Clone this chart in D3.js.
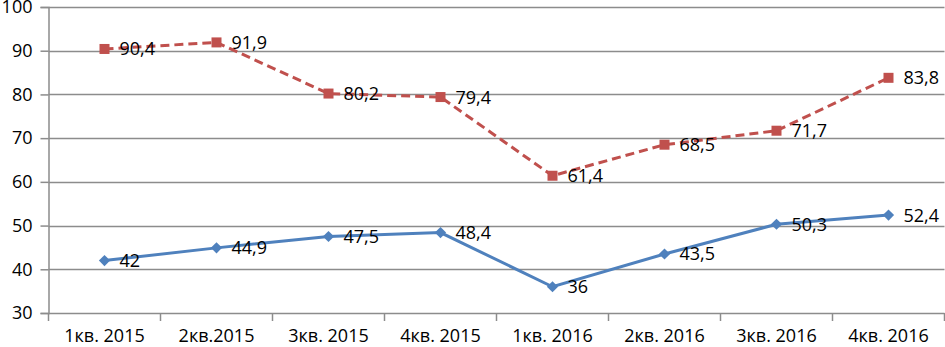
<!DOCTYPE html>
<html><head><meta charset="utf-8">
<script src="https://cdn.jsdelivr.net/npm/d3@7"></script>
<style>body{margin:0;background:#fff}svg{display:block}text{font-family:"Open Sans","Noto Sans",sans-serif}</style>
</head><body>
<svg id="c" width="945" height="347"></svg>
<script>
const categories = ["1кв. 2015","2кв.2015","3кв. 2015","4кв. 2015","1кв. 2016","2кв. 2016","3кв. 2016","4кв. 2016"];
const seriesRed = [90.4, 91.9, 80.2, 79.4, 61.4, 68.5, 71.7, 83.8];
const seriesBlue = [42, 44.9, 47.5, 48.4, 36, 43.5, 50.3, 52.4];
const yTicks = [30,40,50,60,70,80,90,100];

(function(){
const svg = d3.select("#c");
const mLeft = 48.5, mRight = 944.5, mTop = 7, mBottom = 313;
const x = d3.scaleBand().domain(categories).range([mLeft, mRight]);
const y = d3.scaleLinear().domain([30,100]).range([mBottom, mTop]);
const fmt = v => String(v).replace(".", ",");
const fs = 18;

svg.append("g").selectAll("line").data(yTicks).join("line")
  .attr("x1", mLeft).attr("x2", mRight)
  .attr("y1", d => Math.round(y(d))+0.5).attr("y2", d => Math.round(y(d))+0.5)
  .attr("stroke", "#8c8c8c").attr("stroke-width", 1.5);

const ya = svg.append("g").attr("transform", `translate(${mLeft},0)`)
  .call(d3.axisLeft(y).tickValues(yTicks).tickSize(8).tickPadding(8));
ya.select(".domain").attr("stroke", "#8c8c8c").attr("stroke-width", 1.5);
ya.selectAll(".tick line").attr("stroke", "#8c8c8c").attr("stroke-width", 1.5);
ya.selectAll("text").attr("font-size", fs).attr("fill", "#000");

const xa = svg.append("g").attr("transform", `translate(0,${mBottom})`)
  .call(d3.axisBottom(x).tickSize(0).tickPadding(16));
xa.select(".domain").remove();
xa.selectAll("text").attr("font-size", fs).attr("fill", "#000");
svg.append("g").selectAll("line").data(d3.range(categories.length+1)).join("line")
  .attr("x1", i => mLeft + i*x.step()).attr("x2", i => mLeft + i*x.step())
  .attr("y1", mBottom).attr("y2", mBottom+8)
  .attr("stroke", "#8c8c8c").attr("stroke-width", 1.5);

const cx = (d,i) => x(categories[i]) + x.bandwidth()/2;
const line = d3.line().x((d,i) => cx(d,i)).y(d => y(d));

svg.append("path").datum(seriesBlue).attr("d", line).attr("fill","none")
  .attr("stroke","#4f81bd").attr("stroke-width",3);
svg.append("g").selectAll("path").data(seriesBlue).join("path")
  .attr("d", d3.symbol(d3.symbolDiamond2, 80))
  .attr("transform", (d,i) => `translate(${cx(d,i)},${y(d)})`)
  .attr("fill","#4f81bd");

svg.append("path").datum(seriesRed).attr("d", line).attr("fill","none")
  .attr("stroke","#c0504d").attr("stroke-width",3).attr("stroke-dasharray","9,5");
svg.append("g").selectAll("rect").data(seriesRed).join("rect")
  .attr("x", (d,i) => cx(d,i)-5).attr("y", d => y(d)-5)
  .attr("width",10).attr("height",10).attr("fill","#c0504d");

function labels(data){
  svg.append("g").selectAll("text").data(data).join("text")
    .attr("x", (d,i) => cx(d,i)+15).attr("y", d => y(d))
    .attr("dy","0.36em").attr("font-size",fs).attr("fill","#000")
    .text(fmt);
}
labels(seriesBlue);
labels(seriesRed);
})();
</script>
</body></html>
